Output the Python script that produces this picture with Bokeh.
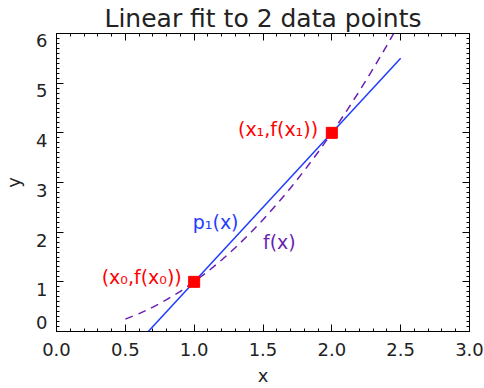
from bokeh.plotting import figure
from bokeh.models import LinearAxis, FixedTicker, Label, Range1d
from bokeh.embed import file_html
from bokeh.resources import INLINE

# data
pts_x = [1.0, 2.0]
pts_y = [1.0, 4.0]
fit_x = [0.5, 2.5]
fit_y = [-0.5, 5.5]
f_x = [0.5, 0.6, 0.7, 0.8, 0.9, 1.0, 1.1, 1.2, 1.3, 1.4, 1.5, 1.6, 1.7, 1.8, 1.9, 2.0, 2.1, 2.2, 2.3, 2.4, 2.5]
f_y = [0.25, 0.36, 0.49, 0.64, 0.81, 1.0, 1.21, 1.44, 1.69, 1.96, 2.25, 2.56, 2.89, 3.24, 3.61, 4.0, 4.41, 4.84, 5.29, 5.76, 6.25]
x_ticks = [0.0, 0.5, 1.0, 1.5, 2.0, 2.5, 3.0]
x_minor = [i / 10 for i in range(0, 31)]
x_tick_labels = ["0.0", "0.5", "1.0", "1.5", "2.0", "2.5", "3.0"]
y_ticks = [0, 1, 2, 3, 4, 5, 6]
y_minor = [i / 10 for i in range(0, 61)]
y_tick_labels = ["0", "1", "2", "3", "4", "5", "6"]
# where the y tick labels sit (they hang a little below their ticks; "0" is lifted inside)
y_label_pos = [0.18, 0.84, 1.84, 2.84, 3.85, 4.85, 5.85]

FONT = "DejaVu Sans"
BLUE = "#1f3cff"
PURPLE = "#6a1fb0"
RED = "#ff0000"
TXT = "#222222"

p = figure(width=484, height=388, x_range=Range1d(0, 3), y_range=Range1d(0, 6),
           output_backend="svg", toolbar_location=None,
           title="Linear fit to 2 data points",
           min_border_left=54, min_border_right=15, min_border_top=5, min_border_bottom=8)
p.xaxis.visible = False
p.yaxis.visible = False
p.grid.visible = False
p.outline_line_color = "black"
p.background_fill_color = "white"
p.border_fill_color = "white"

p.title.text_font = FONT
p.title.text_font_size = "25px"
p.title.text_font_style = "normal"
p.title.align = "center"
p.title.text_color = TXT
p.title.standoff = 2

xt = FixedTicker(ticks=x_ticks, minor_ticks=x_minor)
yt = FixedTicker(ticks=y_ticks, minor_ticks=y_minor)

def style(ax, labels=True):
    ax.axis_line_color = "black"
    ax.major_tick_in = 7
    ax.major_tick_out = 0
    ax.minor_tick_in = 3
    ax.minor_tick_out = 0
    ax.major_tick_line_color = "black"
    ax.minor_tick_line_color = "black"
    ax.major_label_text_font = FONT
    ax.major_label_text_font_size = "18px"
    ax.major_label_text_color = TXT
    ax.axis_label_text_font = FONT
    ax.axis_label_text_font_size = "18px"
    ax.axis_label_text_font_style = "normal"
    ax.axis_label_text_color = TXT
    if not labels:
        ax.major_label_overrides = {t: "" for t in ax.ticker.ticks}
        ax.major_label_standoff = 0

xb = LinearAxis(ticker=xt, axis_label="x")
style(xb)
xb.major_label_overrides = dict(zip(x_ticks, x_tick_labels))
xb.major_label_standoff = 11
xb.axis_label_standoff = 6
p.add_layout(xb, "below")

# left: ticks only (next to frame)
yl = LinearAxis(ticker=yt)
style(yl, labels=False)
p.add_layout(yl, "left")
# left: labels only, placed where the reference shows them
yl2 = LinearAxis(ticker=FixedTicker(ticks=y_label_pos, minor_ticks=[]), axis_label="y")
style(yl2)
yl2.axis_line_color = None
yl2.major_tick_line_color = None
yl2.minor_tick_line_color = None
yl2.major_tick_in = 0
yl2.minor_tick_in = 0
yl2.major_label_overrides = dict(zip(y_label_pos, y_tick_labels))
yl2.major_label_standoff = 9
yl2.axis_label_standoff = 9
p.add_layout(yl2, "left")

xa = LinearAxis(ticker=xt)
style(xa, labels=False)
p.add_layout(xa, "above")
yr = LinearAxis(ticker=yt)
style(yr, labels=False)
p.add_layout(yr, "right")

p.line(f_x, f_y, line_color=PURPLE, line_width=1.5, line_dash="8 6")
p.line(fit_x, fit_y, line_color=BLUE, line_width=1.5)
p.scatter(pts_x, pts_y, marker="square", size=11, color=RED)
p.scatter(pts_x, pts_y, marker="x", size=13, line_width=3, line_color=RED)

p.add_layout(Label(x=0.91, y=1.1, text="(x₀,f(x₀))", text_font=FONT, text_font_size="19px",
                   text_color=RED, text_align="right", text_baseline="middle"))
p.add_layout(Label(x=1.90, y=4.07, text="(x₁,f(x₁))", text_font=FONT, text_font_size="19px",
                   text_color=RED, text_align="right", text_baseline="middle"))
p.add_layout(Label(x=0.99, y=2.2, text="p₁(x)", text_font=FONT, text_font_size="19px",
                   text_color=BLUE, text_align="left", text_baseline="middle"))
p.add_layout(Label(x=1.5, y=1.81, text="f(x)", text_font=FONT, text_font_size="19px",
                   text_color=PURPLE, text_align="left", text_baseline="middle"))

open("out.html", "w").write(file_html(p, INLINE))
